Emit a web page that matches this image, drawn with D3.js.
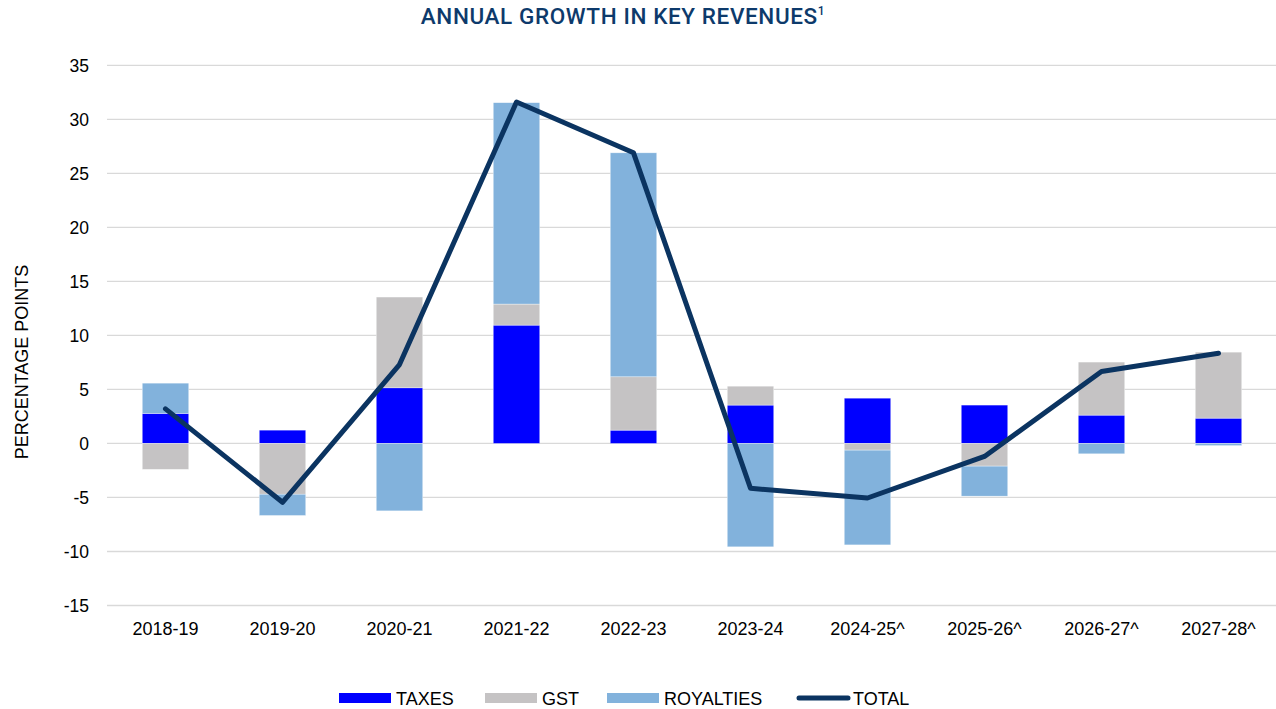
<!DOCTYPE html>
<html><head><meta charset="utf-8">
<script src="https://cdn.jsdelivr.net/npm/d3@7"></script>
<style>
html,body{margin:0;padding:0;background:#fff;}
svg{display:block;}
</style>
</head><body>
<svg id="chart" width="1276" height="709"></svg>
<script>
const categories = ["2018-19","2019-20","2020-21","2021-22","2022-23","2023-24","2024-25^","2025-26^","2026-27^","2027-28^"];
const taxes     = [2.78, 1.23, 5.15, 10.95, 1.23, 3.55, 4.19, 3.55, 2.62, 2.34];
const gst       = [-2.4, -4.7, 8.4, 1.95, 4.94, 1.75, -0.62, -2.1, 4.91, 6.11];
const royalties = [2.8, -1.97, -6.24, 18.64, 20.73, -9.57, -8.77, -2.78, -0.96, -0.2];
const total     = [3.2, -5.45, 7.3, 31.6, 26.9, -4.15, -5.05, -1.2, 6.65, 8.35];
const yTicks    = [-15,-10,-5,0,5,10,15,20,25,30,35];
const seriesNames = ["TAXES","GST","ROYALTIES"];

const colors = {TAXES:"#0000ff", GST:"#c5c3c4", ROYALTIES:"#82b2dc", TOTAL:"#0b3461"};
const FONT = "'Liberation Sans', Arial, sans-serif";

const svg = d3.select("#chart");
const x = d3.scaleBand().domain(categories).range([107,1277]).paddingInner(0).paddingOuter(0);
const y = d3.scaleLinear().domain([-15,35]).range([605.5,65.3]);

// gridlines
svg.append("g").selectAll("line").data(yTicks).join("line")
  .attr("x1",107).attr("x2",1276)
  .attr("y1",d=>y(d)).attr("y2",d=>y(d))
  .attr("stroke","#d9d9d9").attr("stroke-width",1.3);

// y axis labels
const yAxis = d3.axisLeft(y).tickValues(yTicks).tickSize(0).tickPadding(0).tickFormat(d=>String(d));
const gy = svg.append("g").attr("transform","translate(89,0)").call(yAxis);
gy.select(".domain").remove();
gy.selectAll("text").attr("font-family",FONT).attr("font-size",17.5).attr("fill","#000").attr("dy","0.36em");

// x axis labels
const xAxis = d3.axisBottom(x).tickSize(0).tickPadding(0);
const gx = svg.append("g").attr("transform","translate(0,622)").call(xAxis);
gx.select(".domain").remove();
gx.selectAll("text").attr("font-family",FONT).attr("font-size",18).attr("fill","#000").attr("dy","0.71em");

// stacked bars
const rows = categories.map((c,i)=>({cat:c, TAXES:taxes[i], GST:gst[i], ROYALTIES:royalties[i]}));
const stack = d3.stack().keys(seriesNames).offset(d3.stackOffsetDiverging);
const stacked = stack(rows);
const bw = 46.5;
svg.append("g").selectAll("g").data(stacked).join("g")
  .attr("fill",d=>colors[d.key])
  .selectAll("rect").data(d=>d).join("rect")
  .attr("x",d=>x(d.data.cat)+x.bandwidth()/2-bw/2)
  .attr("width",bw)
  .attr("y",d=>y(Math.max(d[0],d[1])))
  .attr("height",d=>Math.abs(y(d[0])-y(d[1])))
  .attr("stroke","#ffffff").attr("stroke-width",0.6).attr("stroke-opacity",0.6);

// total line
const line = d3.line().x((d,i)=>x(categories[i])+x.bandwidth()/2).y(d=>y(d));
svg.append("path").datum(total).attr("d",line)
  .attr("fill","none").attr("stroke",colors.TOTAL).attr("stroke-width",5)
  .attr("stroke-linejoin","round").attr("stroke-linecap","round");

// title
const title = svg.append("text").attr("x",623).attr("y",23.5).attr("text-anchor","middle")
  .attr("font-family","Roboto, sans-serif").attr("font-weight",500).attr("font-size",22.5)
  .attr("letter-spacing",0.6).attr("fill","#0d3a6b");
title.append("tspan").text("ANNUAL GROWTH IN KEY REVENUES");
title.append("tspan").text("1").attr("font-size",12).attr("dy",-9);

// y axis title
svg.append("text").attr("transform","translate(28,362) rotate(-90)").attr("text-anchor","middle")
  .attr("font-family",FONT).attr("font-size",18).attr("fill","#000")
  .text("PERCENTAGE POINTS");

// legend
const legendItems = [
  {name:"TAXES", x:339, tx:396, type:"rect"},
  {name:"GST", x:485, tx:542, type:"rect"},
  {name:"ROYALTIES", x:607, tx:664, type:"rect"},
  {name:"TOTAL", x:797, tx:853, type:"line"}
];
const lg = svg.append("g");
legendItems.forEach(it=>{
  if(it.type==="rect"){
    lg.append("rect").attr("x",it.x).attr("y",693).attr("width",52).attr("height",10).attr("fill",colors[it.name]);
  } else {
    lg.append("line").attr("x1",it.x+2).attr("x2",it.x+51).attr("y1",698).attr("y2",698)
      .attr("stroke",colors.TOTAL).attr("stroke-width",5).attr("stroke-linecap","round");
  }
  lg.append("text").attr("x",it.tx).attr("y",705)
    .attr("font-family",FONT).attr("font-size",18).attr("fill","#000")
    .text(it.name);
});
</script>
</body></html>
